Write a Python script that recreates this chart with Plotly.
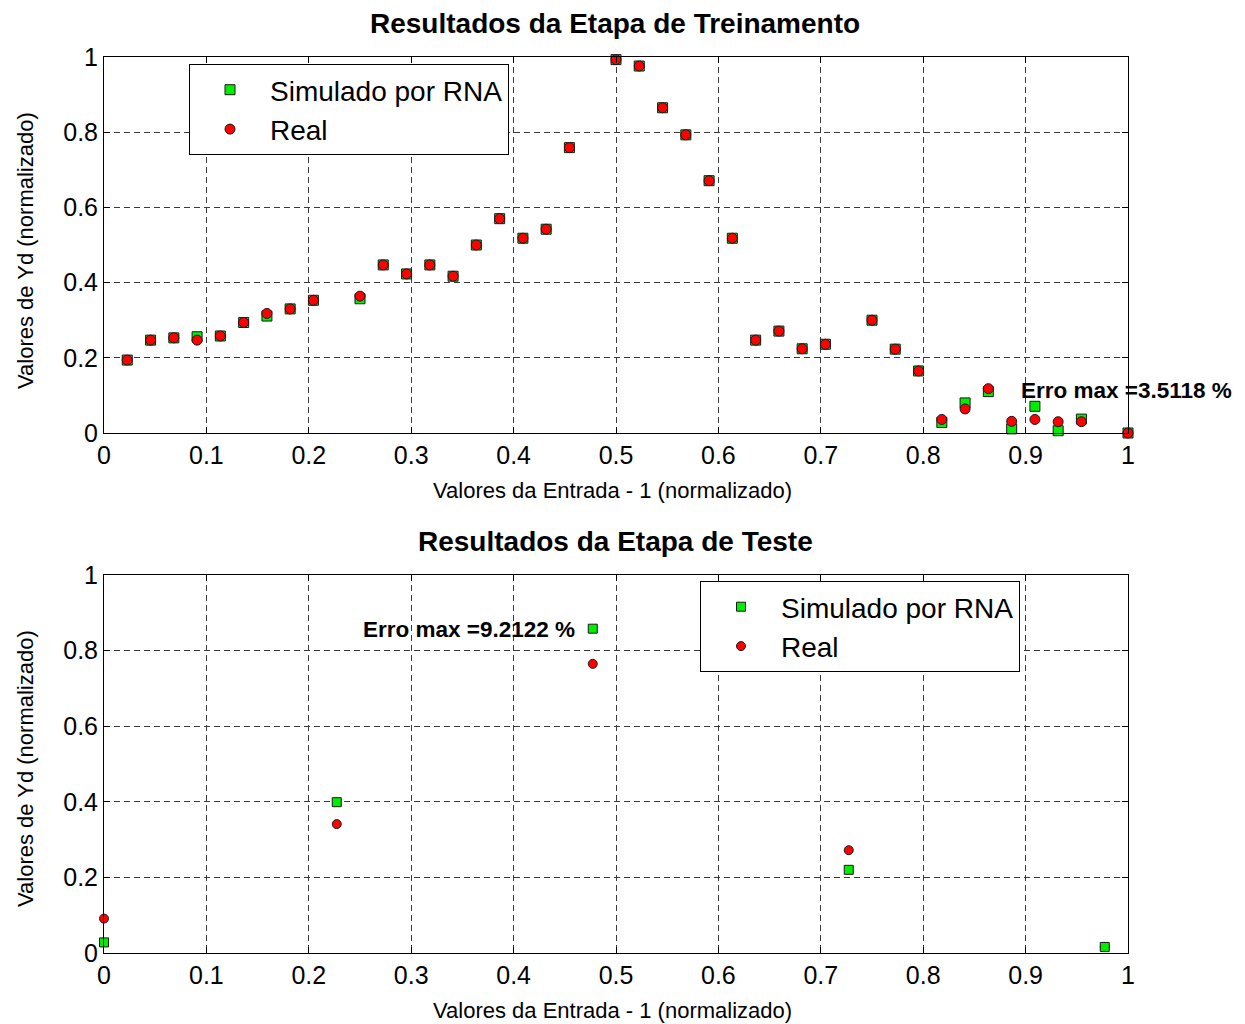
import plotly.graph_objects as go

# ---------------- data ----------------
x_train = [0.0227, 0.0455, 0.0682, 0.0909, 0.1136, 0.1364, 0.1591, 0.1818, 0.2045,
           0.2500, 0.2727, 0.2955, 0.3182, 0.3409, 0.3636, 0.3864, 0.4091, 0.4318, 0.4545,
           0.5000, 0.5227, 0.5455, 0.5682, 0.5909, 0.6136, 0.6364, 0.6591, 0.6818, 0.7045,
           0.7500, 0.7727, 0.7955, 0.8182, 0.8409, 0.8636, 0.8864, 0.9091, 0.9318, 0.9545,
           1.0000]
real_train = [0.194, 0.247, 0.253, 0.247, 0.258, 0.294, 0.318, 0.330, 0.353,
              0.364, 0.447, 0.423, 0.447, 0.417, 0.500, 0.570, 0.518, 0.542, 0.759,
              0.993, 0.976, 0.865, 0.793, 0.671, 0.518, 0.247, 0.271, 0.224, 0.236,
              0.300, 0.223, 0.165, 0.036, 0.064, 0.118, 0.031, 0.036, 0.030, 0.030,
              0.000]
sim_train = [0.194, 0.247, 0.253, 0.256, 0.258, 0.294, 0.311, 0.330, 0.353,
             0.357, 0.447, 0.423, 0.447, 0.417, 0.500, 0.570, 0.518, 0.542, 0.759,
             0.993, 0.976, 0.865, 0.793, 0.671, 0.518, 0.247, 0.271, 0.224, 0.236,
             0.300, 0.223, 0.165, 0.028, 0.080, 0.110, 0.011, 0.071, 0.006, 0.037,
             0.000]

x_test = [0.0000, 0.2273, 0.4773, 0.7273, 0.9773]
real_test = [0.091, 0.341, 0.765, 0.272, 0.016]
sim_test = [0.028, 0.399, 0.858, 0.220, 0.016]

x_ticks = [0, 0.1, 0.2, 0.3, 0.4, 0.5, 0.6, 0.7, 0.8, 0.9, 1]
x_tick_text = ["0", "0.1", "0.2", "0.3", "0.4", "0.5", "0.6", "0.7", "0.8", "0.9", "1"]
y_ticks = [0, 0.2, 0.4, 0.6, 0.8, 1]
y_tick_text = ["0", "0.2", "0.4", "0.6", "0.8", "1"]

title_train = "Resultados da Etapa de Treinamento"
title_test = "Resultados da Etapa de Teste"
x_label = "Valores da Entrada - 1 (normalizado)"
y_label = "Valores de Yd (normalizado)"
name_sim = "Simulado por RNA"
name_real = "Real"
note_train = "Erro max =3.5118 %"
note_test = "Erro max =9.2122 %"

# ---------------- style ----------------
FONT = "Arial, 'Liberation Sans', Helvetica, sans-serif"
GREEN = "#00ee00"
RED = "#ff0000"
EDGE = "#1a1a1a"

# the page body adds an 8px margin; lay the figure out in window pixels
OFF = 8
W, H = 1245 - OFF, 1024 - OFF


def px(x):
    return (x - OFF) / W


def py(y):
    return 1 - (y - OFF) / H


fig = go.Figure()

# top plot: green first, red on top
fig.add_trace(go.Scatter(x=x_train, y=sim_train, mode="markers", name=name_sim,
                         marker=dict(symbol="square", size=10, color=GREEN,
                                     line=dict(color=EDGE, width=1)),
                         xaxis="x", yaxis="y", legend="legend", cliponaxis=False,
                         legendrank=1))
fig.add_trace(go.Scatter(x=x_train, y=real_train, mode="markers", name=name_real,
                         marker=dict(symbol="circle", size=10, color=RED,
                                     line=dict(color=EDGE, width=1)),
                         xaxis="x", yaxis="y", legend="legend", cliponaxis=False,
                         legendrank=2))
# bottom plot: red first, green on top
fig.add_trace(go.Scatter(x=x_test, y=real_test, mode="markers", name=name_real,
                         marker=dict(symbol="circle", size=9, color=RED,
                                     line=dict(color=EDGE, width=1)),
                         xaxis="x2", yaxis="y2", legend="legend2", cliponaxis=False,
                         legendrank=2))
fig.add_trace(go.Scatter(x=x_test, y=sim_test, mode="markers", name=name_sim,
                         marker=dict(symbol="square", size=9, color=GREEN,
                                     line=dict(color=EDGE, width=1)),
                         xaxis="x2", yaxis="y2", legend="legend2", cliponaxis=False,
                         legendrank=1))

xdom = [px(104), px(1128)]
ydom_top = [py(433), py(57)]
ydom_bot = [py(953), py(575)]

axis_common = dict(
    range=[0, 1], showgrid=True, gridcolor="#3a3a3a", gridwidth=1, griddash="6px,4px",
    zeroline=False, showline=True, linecolor="black", linewidth=1, mirror="ticks",
    ticks="inside", ticklen=6, tickcolor="black",
    tickfont=dict(family=FONT, size=25, color="black"), automargin=False,
)

legend_common = dict(xanchor="left", yanchor="top", bgcolor="white",
                     bordercolor="black", borderwidth=1,
                     font=dict(family=FONT, size=28, color="black"),
                     itemwidth=70, traceorder="normal")

fig.update_layout(
    width=W, height=H,
    margin=dict(l=0, r=0, t=0, b=0),
    paper_bgcolor="white", plot_bgcolor="white",
    font=dict(family=FONT, color="black"),
    xaxis=dict(domain=xdom, anchor="y", tickvals=x_ticks, ticktext=x_tick_text, **axis_common),
    yaxis=dict(domain=ydom_top, anchor="x", tickvals=y_ticks, ticktext=y_tick_text, **axis_common),
    xaxis2=dict(domain=xdom, anchor="y2", tickvals=x_ticks, ticktext=x_tick_text, **axis_common),
    yaxis2=dict(domain=ydom_bot, anchor="x2", tickvals=y_ticks, ticktext=y_tick_text, **axis_common),
    legend=dict(x=px(189), y=py(64), **legend_common),
    legend2=dict(x=px(700), y=py(581), **legend_common),
    showlegend=True,
)

ann = []
for t, yc in ((title_train, 24), (title_test, 541)):
    ann.append(dict(text="<b>%s</b>" % t, x=px(615), y=py(yc), xref="paper", yref="paper",
                    showarrow=False, xanchor="center", yanchor="middle",
                    font=dict(family=FONT, size=28, color="black")))
for yc in (490, 1010):
    ann.append(dict(text=x_label, x=px(612), y=py(yc), xref="paper", yref="paper",
                    showarrow=False, xanchor="center", yanchor="middle",
                    font=dict(family=FONT, size=22, color="black")))
for yc in (251, 769):
    ann.append(dict(text=y_label, x=px(25), y=py(yc), xref="paper", yref="paper",
                    showarrow=False, xanchor="center", yanchor="middle", textangle=-90,
                    font=dict(family=FONT, size=22, color="black")))
ann.append(dict(text="<b>%s</b>" % note_train, x=0.894, y=0.112, xref="x", yref="y",
                showarrow=False, xanchor="left", yanchor="middle",
                font=dict(family=FONT, size=22.5, color="black")))
ann.append(dict(text="<b>%s</b>" % note_test, x=0.2505, y=0.855, xref="x2", yref="y2",
                showarrow=False, xanchor="left", yanchor="middle",
                font=dict(family=FONT, size=22.5, color="black")))
fig.update_layout(annotations=ann)

fig.write_html("out.html")
